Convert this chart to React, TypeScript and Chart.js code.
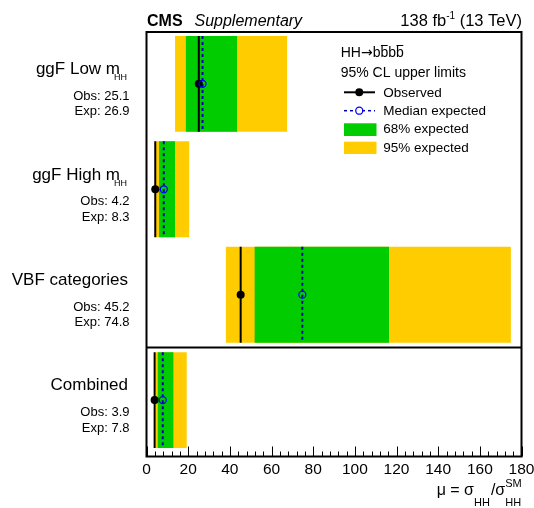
import React, { useEffect, useRef } from 'react';
import { Chart, registerables } from 'chart.js';

Chart.register(...registerables);

// ---------- data ----------
const categories = ['ggF Low m', 'ggF High m', 'VBF categories', 'Combined'];
const categorySubscripts = ['HH', 'HH', '', ''];
const observed = [25.1, 4.2, 45.2, 3.9];
const expected = [26.9, 8.3, 74.8, 7.8];
const band68Low = [18.9, 6.0, 51.9, 5.4];
const band68High = [43.5, 13.7, 116.4, 12.9];
const band95Low = [13.7, 4.4, 38.1, 4.3];
const band95High = [67.5, 20.5, 174.9, 19.3];
const xTickValues = [0, 20, 40, 60, 80, 100, 120, 140, 160, 180];
const legendLabels = ['Observed', 'Median expected', '68% expected', '95% expected'];

const FONT = '"Liberation Sans", Arial, Helvetica, sans-serif';
const GREEN = '#00CC00';
const YELLOW = '#FFCC00';
const EXP_LINE = '#0000AA';
const EXP_MARK = '#0000FF';

const overlay = {
  id: 'cmsOverlay',
  afterDraw(chart: any) {
    const { ctx, chartArea } = chart;
    const xs = chart.scales.x;
    const ys = chart.scales.y;
    const { left, right, top, bottom } = chartArea;
    ctx.save();

    // separator between category groups and combined
    const nRows = categories.length;
    const sepY = ys.getPixelForValue(nRows - 1.5);
    ctx.strokeStyle = '#000';
    ctx.lineWidth = 2;
    ctx.beginPath();
    ctx.moveTo(left, sepY);
    ctx.lineTo(right, sepY);
    ctx.stroke();

    // inner ticks on bottom axis
    ctx.lineWidth = 1;
    const xMin = xTickValues[0];
    const xMax = xTickValues[xTickValues.length - 1];
    const major = xTickValues[1] - xTickValues[0];
    const minor = major / 5;
    for (let v = xMin; v <= xMax + 1e-6; v += minor) {
      const px = Math.round(xs.getPixelForValue(v)) + 0.5;
      const isMajor = Math.abs(v / major - Math.round(v / major)) < 1e-6;
      const len = isMajor ? 10 : 5;
      ctx.beginPath();
      ctx.moveTo(px, bottom);
      ctx.lineTo(px, bottom - len);
      ctx.stroke();
    }

    // frame
    ctx.lineWidth = 2;
    ctx.strokeRect(left, top, right - left, bottom - top);

    // left labels
    ctx.fillStyle = '#000';
    ctx.textBaseline = 'alphabetic';
    ctx.textAlign = 'right';
    categories.forEach((name, i) => {
      const c = ys.getPixelForValue(i);
      const sub = categorySubscripts[i];
      ctx.font = `17px ${FONT}`;
      ctx.fillText(name, sub ? 120 : 128, c - 9.7);
      if (sub) {
        ctx.font = `9px ${FONT}`;
        ctx.fillText(sub, 127, c - 3.5);
      }
      ctx.font = `13px ${FONT}`;
      ctx.fillText(`Obs: ${observed[i].toFixed(1)}`, 129.5, c + 16.2);
      ctx.fillText(`Exp: ${expected[i].toFixed(1)}`, 129.5, c + 31.5);
    });

    // header
    ctx.textAlign = 'left';
    ctx.font = `bold 16px ${FONT}`;
    ctx.fillText('CMS', 147, 25.5);
    ctx.font = `italic 16px ${FONT}`;
    ctx.fillText('Supplementary', 194.5, 25.5);
    // right header: 138 fb^-1 (13 TeV)
    ctx.font = `16.5px ${FONT}`;
    const part3 = ' (13 TeV)';
    const w3 = ctx.measureText(part3).width;
    ctx.font = `10px ${FONT}`;
    const sup = '-1';
    const w2 = ctx.measureText(sup).width;
    ctx.font = `16.5px ${FONT}`;
    const part1 = '138 fb';
    const w1 = ctx.measureText(part1).width;
    let hx = 522 - w3 - w2 - w1;
    ctx.fillText(part1, hx, 25.5);
    hx += w1;
    ctx.font = `10px ${FONT}`;
    ctx.fillText(sup, hx, 19);
    hx += w2;
    ctx.font = `16.5px ${FONT}`;
    ctx.fillText(part3, hx, 25.5);

    // legend
    const lx = 340.7;
    ctx.font = `14px ${FONT}`;
    let tx = lx;
    const drawSeg = (s: string, over: boolean) => {
      const w = ctx.measureText(s).width;
      ctx.fillText(s, tx, 56.7);
      if (over) {
        ctx.lineWidth = 1;
        ctx.beginPath();
        ctx.moveTo(tx + 0.5, 45.5);
        ctx.lineTo(tx + w - 0.5, 45.5);
        ctx.stroke();
      }
      tx += w;
    };
    drawSeg('HH', false);
    ctx.font = `14px "DejaVu Sans", ${FONT}`;
    drawSeg('\u2192', false);
    ctx.font = `14px ${FONT}`;
    drawSeg('b', false);
    drawSeg('b', true);
    drawSeg('b', false);
    drawSeg('b', true);
    ctx.fillText('95% CL upper limits', lx, 76.7);

    ctx.font = `13.5px ${FONT}`;
    const mx0 = 344;
    const mx1 = 376.5;
    const mxc = (mx0 + mx1) / 2;
    const textX = 383.3;
    // observed
    ctx.strokeStyle = '#000';
    ctx.lineWidth = 2;
    ctx.beginPath();
    ctx.moveTo(mx0, 92.3);
    ctx.lineTo(mx1 - 1.5, 92.3);
    ctx.stroke();
    ctx.fillStyle = '#000';
    ctx.beginPath();
    ctx.arc(mxc - 1, 92.3, 4, 0, Math.PI * 2);
    ctx.fill();
    ctx.fillText(legendLabels[0], textX, 96.5);
    // median expected
    ctx.strokeStyle = EXP_LINE;
    ctx.lineWidth = 1.5;
    ctx.setLineDash([3, 3]);
    ctx.beginPath();
    ctx.moveTo(mx0, 110.7);
    ctx.lineTo(mx1 - 1.5, 110.7);
    ctx.stroke();
    ctx.setLineDash([]);
    ctx.fillStyle = '#fff';
    ctx.beginPath();
    ctx.arc(mxc - 1, 110.7, 3.5, 0, Math.PI * 2);
    ctx.fill();
    ctx.strokeStyle = EXP_MARK;
    ctx.lineWidth = 1.3;
    ctx.stroke();
    ctx.fillStyle = '#000';
    ctx.fillText(legendLabels[1], textX, 114.5);
    // 68%
    ctx.fillStyle = GREEN;
    ctx.fillRect(mx0, 123.3, mx1 - mx0, 12.7);
    ctx.fillStyle = '#000';
    ctx.fillText(legendLabels[2], textX, 132.7);
    // 95%
    ctx.fillStyle = YELLOW;
    ctx.fillRect(mx0, 141.7, mx1 - mx0, 12.3);
    ctx.fillStyle = '#000';
    ctx.fillText(legendLabels[3], textX, 151.5);

    // x-axis title: mu = sigma_HH / sigma_HH^SM
    const baseY = 495;
    let rx = 521.7;
    ctx.textAlign = 'left';
    ctx.font = `11px ${FONT}`;
    const wSM = ctx.measureText('SM').width;
    const wHH = ctx.measureText('HH').width;
    const blockW = Math.max(wSM, wHH);
    rx -= blockW;
    ctx.fillText('SM', rx, 487);
    ctx.fillText('HH', rx, 506);
    ctx.font = `16px ${FONT}`;
    const wSlash = ctx.measureText('/\u03C3').width;
    rx -= wSlash;
    ctx.fillText('/\u03C3', rx, baseY);
    ctx.font = `11px ${FONT}`;
    rx -= wHH + 1;
    ctx.fillText('HH', rx, 506);
    ctx.font = `16px ${FONT}`;
    const wMain = ctx.measureText('\u03BC = \u03C3').width;
    rx -= wMain;
    ctx.fillText('\u03BC = \u03C3', rx, baseY);

    ctx.restore();
  },
};

export default function App() {
  const ref = useRef<HTMLCanvasElement>(null);
  useEffect(() => {
    document.body.style.margin = '0';
    const canvas = ref.current!;
    const rows = categories.map((_, i) => i);
    const half = 0.455;
    const datasets: any[] = [
      {
        type: 'bar',
        label: legendLabels[3],
        data: rows.map((i) => ({ x: [band95Low[i], band95High[i]], y: i })),
        backgroundColor: YELLOW,
        borderWidth: 0,
        grouped: false,
        barPercentage: 0.91,
        categoryPercentage: 1,
        order: 10,
      },
      {
        type: 'bar',
        label: legendLabels[2],
        data: rows.map((i) => ({ x: [band68Low[i], band68High[i]], y: i })),
        backgroundColor: GREEN,
        borderWidth: 0,
        grouped: false,
        barPercentage: 0.91,
        categoryPercentage: 1,
        order: 9,
      },
      ...rows.map((i) => ({
        type: 'line',
        label: legendLabels[0],
        data: [
          { x: observed[i], y: i - half },
          { x: observed[i], y: i + half },
        ],
        borderColor: '#000',
        borderWidth: 2,
        pointRadius: 0,
        order: 8,
      })),
      ...rows.map((i) => ({
        type: 'line',
        label: legendLabels[1],
        data: [
          { x: expected[i], y: i - half },
          { x: expected[i], y: i + half },
        ],
        borderColor: EXP_LINE,
        borderWidth: 2,
        borderDash: [3, 3],
        pointRadius: 0,
        order: 7,
      })),
      {
        type: 'scatter',
        label: legendLabels[0],
        data: rows.map((i) => ({ x: observed[i], y: i })),
        pointRadius: 4,
        backgroundColor: '#000',
        borderColor: '#000',
        borderWidth: 0,
        order: 6,
      },
      {
        type: 'scatter',
        label: legendLabels[1],
        data: rows.map((i) => ({ x: expected[i], y: i })),
        pointRadius: 3.5,
        backgroundColor: 'rgba(0,0,0,0)',
        borderColor: EXP_MARK,
        borderWidth: 1.3,
        order: 5,
      },
    ];

    const chart = new Chart(canvas, {
      type: 'bar',
      data: { datasets },
      options: {
        indexAxis: 'y',
        responsive: false,
        animation: false,
        devicePixelRatio: 1,
        layout: { padding: { left: 146.5, right: 12.5, top: 32, bottom: 0 } },
        plugins: { legend: { display: false }, tooltip: { enabled: false } },
        scales: {
          x: {
            type: 'linear',
            offset: false,
            min: xTickValues[0],
            max: xTickValues[xTickValues.length - 1],
            grid: { display: false, drawTicks: false, offset: false },
            border: { display: false },
            ticks: {
              stepSize: xTickValues[1] - xTickValues[0],
              color: '#000',
              font: { family: FONT, size: 15.5 },
              padding: 4,
              maxRotation: 0,
              autoSkip: false,
            },
            afterFit: (scale: any) => {
              scale.height = 51.5;
              scale.paddingLeft = 0;
              scale.paddingRight = 0;
            },
          },
          y: {
            type: 'linear',
            display: false,
            offset: false,
            reverse: true,
            min: -0.492,
            max: 3.535,
            grid: { offset: false },
            ticks: { stepSize: 1, includeBounds: false },
          },
        },
      } as any,
      plugins: [overlay],
    } as any);
    return () => chart.destroy();
  }, []);

  return (
    <canvas
      ref={ref}
      width={534}
      height={508}
      style={{ display: 'block', width: 534, height: 508 }}
    />
  );
}
